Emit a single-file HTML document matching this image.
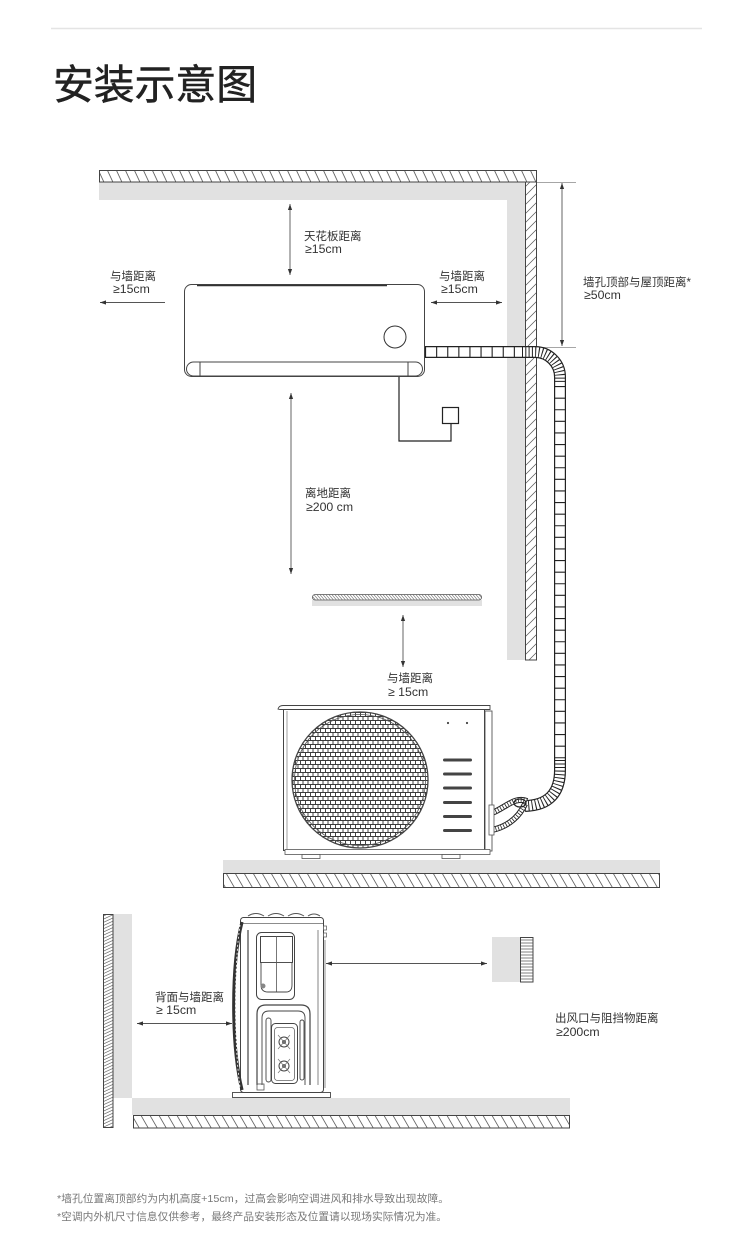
<!DOCTYPE html>
<html><head><meta charset="utf-8">
<style>
html,body{margin:0;padding:0;background:#fff;}
svg{display:block;}
text{font-family:"Liberation Sans","Noto Sans CJK SC",sans-serif;}
.lb{font-size:11.5px;fill:#333;}
.lv{font-size:12.3px;fill:#333;}
.dl{stroke:#555;stroke-width:0.9;fill:none;}
.ol{stroke:#444;stroke-width:1;fill:none;}
</style></head><body>
<svg width="750" height="1245" viewBox="0 0 750 1245" xmlns="http://www.w3.org/2000/svg">
<defs>
  <marker id="ah" viewBox="0 0 10 10" refX="10" refY="5" markerWidth="6" markerHeight="6" orient="auto-start-reverse" markerUnits="userSpaceOnUse">
    <path d="M0,1.5 L10,5 L0,8.5z" fill="#333"/>
  </marker>
  <pattern id="hb" width="9" height="20" patternUnits="userSpaceOnUse" patternTransform="skewX(25)">
    <line x1="1" y1="0" x2="1" y2="20" stroke="#555" stroke-width="0.9"/>
  </pattern>
  <pattern id="hf" width="9" height="20" patternUnits="userSpaceOnUse" patternTransform="skewX(30)">
    <line x1="1" y1="0" x2="1" y2="20" stroke="#555" stroke-width="0.9"/>
  </pattern>
  <pattern id="hw" width="20" height="9" patternUnits="userSpaceOnUse" patternTransform="skewY(-45)">
    <line x1="0" y1="1" x2="20" y2="1" stroke="#555" stroke-width="0.9"/>
  </pattern>
  <pattern id="hs" width="20" height="3.2" patternUnits="userSpaceOnUse" patternTransform="skewY(-25)">
    <line x1="0" y1="1" x2="20" y2="1" stroke="#555" stroke-width="0.7"/>
  </pattern>
  <pattern id="ho" width="20" height="3" patternUnits="userSpaceOnUse">
    <line x1="0" y1="1" x2="20" y2="1" stroke="#555" stroke-width="0.7"/>
  </pattern>
  <pattern id="hsh" width="3" height="10" patternUnits="userSpaceOnUse" patternTransform="skewX(40)">
    <line x1="1" y1="0" x2="1" y2="10" stroke="#555" stroke-width="0.7"/>
  </pattern>
  <pattern id="grl" width="5" height="8" patternUnits="userSpaceOnUse">
    <path d="M0,0.5 H5 M0,4.5 H5 M0.5,0.5 V4.5 M3,4.5 V8.5" stroke="#3a3a3a" stroke-width="0.95" fill="none"/>
  </pattern>
</defs>

<!-- top separator -->
<line x1="51" y1="28.5" x2="702" y2="28.5" stroke="#e4e4e4" stroke-width="1.5"/>
<!-- title -->
<text x="53" y="99" font-size="41" fill="#222" stroke="#222" stroke-width="0.5" textLength="204" lengthAdjust="spacingAndGlyphs">安装示意图</text>

<!-- ceiling & wall -->
<rect x="99" y="182" width="426" height="18" fill="#e1e1e1"/>
<rect x="507" y="182" width="18" height="478" fill="#e1e1e1"/>
<rect x="99.5" y="170.5" width="437" height="11.5" fill="url(#hb)" stroke="#444" stroke-width="1"/>
<rect x="525.5" y="182" width="11" height="478" fill="url(#hw)"/>
<path d="M525.5,182 V660 H536.5 V170.5" class="ol"/>

<!-- right dimension -->
<line x1="537" y1="182.5" x2="576" y2="182.5" stroke="#888" stroke-width="0.8"/>
<line x1="525" y1="347.5" x2="576" y2="347.5" stroke="#888" stroke-width="0.8"/>
<line x1="562" y1="183" x2="562" y2="346" class="dl" marker-start="url(#ah)" marker-end="url(#ah)"/>
<text class="lb" x="583" y="286">墙孔顶部与屋顶距离*</text>
<text class="lv" x="584" y="299">≥50cm</text>

<!-- indoor unit -->
<rect x="184.5" y="284.5" width="240" height="92" rx="7" fill="#fff" stroke="#444" stroke-width="1"/>
<line x1="197" y1="285.5" x2="387" y2="285.5" stroke="#333" stroke-width="1.6"/>
<circle cx="395" cy="337" r="11" fill="#fff" stroke="#333" stroke-width="1"/>
<rect x="186.5" y="362" width="236" height="14" rx="7" fill="#fff" stroke="#444" stroke-width="1"/>
<line x1="200" y1="362" x2="200" y2="376" class="ol"/>
<line x1="408" y1="362" x2="408" y2="376" class="ol"/>

<!-- wire & box -->
<polyline points="399,377 399,441 451,441 451,423" fill="none" stroke="#222" stroke-width="1.2"/>
<rect x="442.5" y="407.5" width="16" height="16" fill="#fff" stroke="#222" stroke-width="1.2"/>

<!-- tube -->
<g fill="none">
  <path d="M425,352 H535 A25,25 0 0 1 560,377 V770 Q560,805 525,806" stroke="#222" stroke-width="12"/>
  <path d="M425,352 H535 A25,25 0 0 1 560,377 V770 Q560,805 525,806" stroke="#fff" stroke-width="9.6"/>
  <path d="M425,352 H522" stroke="#222" stroke-width="10" stroke-dasharray="1.1 10"/>
  <path d="M522,352 H535 A25,25 0 0 1 560,377 V384" stroke="#222" stroke-width="10" stroke-dasharray="1 2.3"/>
  <path d="M560,386 V760" stroke="#222" stroke-width="10" stroke-dasharray="1.1 10.5"/>
  <path d="M560,760 V770 Q560,805 525,806" stroke="#222" stroke-width="10" stroke-dasharray="1 2.5"/>
  <!-- hoses -->
  <path d="M527,801 C515,796 505,808 492,813" stroke="#222" stroke-width="6"/>
  <path d="M527,801 C515,796 505,808 492,813" stroke="#fff" stroke-width="4"/>
  <path d="M527,801 C515,796 505,808 492,813" stroke="#222" stroke-width="4" stroke-dasharray="0.8 2"/>
  <path d="M525,804 C520,815 510,826 492,830" stroke="#222" stroke-width="6"/>
  <path d="M525,804 C520,815 510,826 492,830" stroke="#fff" stroke-width="4"/>
  <path d="M525,804 C520,815 510,826 492,830" stroke="#222" stroke-width="4" stroke-dasharray="0.8 2"/>
  <ellipse cx="520" cy="803" rx="6" ry="4" stroke="#222" stroke-width="1.2"/>
</g>

<!-- dimension arrows top -->
<line x1="290" y1="204" x2="290" y2="275" class="dl" marker-start="url(#ah)" marker-end="url(#ah)"/>
<text class="lb" x="304" y="240">天花板距离</text>
<text class="lv" x="305" y="253">≥15cm</text>

<line x1="165" y1="302.5" x2="100" y2="302.5" class="dl" marker-end="url(#ah)"/>
<text class="lb" x="110" y="280">与墙距离</text>
<text class="lv" x="113" y="293">≥15cm</text>

<line x1="431" y1="302.5" x2="502" y2="302.5" class="dl" marker-start="url(#ah)" marker-end="url(#ah)"/>
<text class="lb" x="439" y="280">与墙距离</text>
<text class="lv" x="441" y="293">≥15cm</text>

<line x1="291" y1="393" x2="291" y2="574" class="dl" marker-start="url(#ah)" marker-end="url(#ah)"/>
<text class="lb" x="305" y="497">离地距离</text>
<text class="lv" x="306" y="511">≥200 cm</text>

<!-- shelf -->
<rect x="312" y="600" width="170" height="6" fill="#e1e1e1"/>
<rect x="312.5" y="594.5" width="169" height="5.5" rx="2.5" fill="url(#hsh)" stroke="#555" stroke-width="0.8"/>

<line x1="403" y1="615" x2="403" y2="667" class="dl" marker-start="url(#ah)" marker-end="url(#ah)"/>
<text class="lb" x="387" y="682">与墙距离</text>
<text class="lv" x="388" y="696">≥ 15cm</text>

<!-- outdoor unit -->
<rect x="485" y="711" width="7" height="140" fill="#fff" stroke="#555" stroke-width="0.9"/>
<rect x="283.5" y="709.5" width="201" height="141" fill="#fff" stroke="#444" stroke-width="1"/>
<line x1="287" y1="711" x2="287" y2="850" stroke="#777" stroke-width="0.7"/>
<path d="M278,709 Q279,705.5 283,705.5 H490 V709.5 H280 Z" fill="#fff" stroke="#444" stroke-width="0.9"/>
<rect x="285" y="849.5" width="205" height="5" fill="#fff" stroke="#555" stroke-width="0.8"/>
<rect x="302" y="854.5" width="18" height="4" fill="#fff" stroke="#555" stroke-width="0.8"/>
<rect x="442" y="854.5" width="18" height="4" fill="#fff" stroke="#555" stroke-width="0.8"/>
<circle cx="360" cy="780" r="68" fill="url(#grl)" stroke="#444" stroke-width="1.3"/>
<circle cx="360" cy="780" r="65.5" fill="none" stroke="#555" stroke-width="0.8"/>
<g fill="#444">
  <rect x="443" y="758.5" width="29" height="3" rx="1.5"/>
  <rect x="443" y="772.5" width="29" height="3" rx="1.5"/>
  <rect x="443" y="786.5" width="29" height="3" rx="1.5"/>
  <rect x="443" y="801" width="29" height="3" rx="1.5"/>
  <rect x="443" y="815" width="29" height="3" rx="1.5"/>
  <rect x="443" y="829" width="29" height="3" rx="1.5"/>
  <circle cx="448" cy="723" r="1.1"/>
  <circle cx="467" cy="723" r="1.1"/>
</g>
<rect x="489" y="805" width="5" height="30" fill="#fff" stroke="#555" stroke-width="0.8"/>

<!-- outdoor floor -->
<rect x="223" y="860" width="437" height="13" fill="#e1e1e1"/>
<rect x="223.5" y="873.5" width="436" height="14" fill="url(#hf)" stroke="#444" stroke-width="1"/>

<!-- side view walls -->
<rect x="113" y="914" width="19" height="184" fill="#e1e1e1"/>
<rect x="132" y="1098" width="438" height="17" fill="#e1e1e1"/>
<rect x="103.5" y="914.5" width="9.5" height="213" fill="url(#hs)" stroke="#444" stroke-width="1"/>
<rect x="133.5" y="1115.5" width="436" height="12.5" fill="url(#hf)" stroke="#444" stroke-width="1"/>

<!-- side unit -->
<rect x="232.5" y="1092.5" width="98" height="5" fill="#fff" stroke="#444" stroke-width="0.9"/>
<rect x="240.5" y="917.5" width="83" height="175" rx="3" fill="#fff" stroke="#444" stroke-width="1"/>
<path d="M248,916 Q256,911 264,916 M268,916 Q276,911 284,916 M288,916 Q296,911 304,916 M308,916 Q314,912 320,916" fill="none" stroke="#555" stroke-width="1"/>
<line x1="241" y1="923.5" x2="323" y2="923.5" stroke="#666" stroke-width="0.7"/>
<path d="M242,922 C231,965 231,1045 242,1090" fill="none" stroke="#333" stroke-width="3.2"/>
<path d="M240,925 C234,965 234,1045 240,1087" fill="none" stroke="#fff" stroke-width="0.8" stroke-dasharray="2 2"/>
<line x1="248" y1="930" x2="248" y2="1085" stroke="#444" stroke-width="1.2"/>
<line x1="318" y1="930" x2="318" y2="1085" stroke="#666" stroke-width="0.8"/>
<rect x="256.5" y="932.5" width="38" height="67" rx="5" fill="#fff" stroke="#444" stroke-width="1"/>
<rect x="260.5" y="936.5" width="32" height="26" fill="#fff" stroke="#444" stroke-width="1"/>
<line x1="276.5" y1="936" x2="276.5" y2="992" stroke="#555" stroke-width="0.8"/>
<line x1="260" y1="962.5" x2="293" y2="962.5" stroke="#555" stroke-width="0.8"/>
<path d="M261,962 V985 Q261,992 268,992 H286 Q292,992 292,985 V962" fill="none" stroke="#444" stroke-width="0.9"/>
<circle cx="263" cy="986" r="2.5" fill="#888"/>
<path d="M257,1085 V1014 Q257,1005 266,1005 H301 Q310,1005 310,1014 V1085" fill="none" stroke="#444" stroke-width="1.2"/>
<path d="M262,1085 V1018 Q262,1011 269,1011 H298 Q305,1011 305,1018 V1085" fill="none" stroke="#444" stroke-width="0.9"/>
<rect x="266" y="1018" width="5" height="64" rx="2.5" fill="none" stroke="#444" stroke-width="0.9"/>
<rect x="300" y="1020" width="4" height="60" rx="2" fill="none" stroke="#444" stroke-width="0.9"/>
<rect x="271.5" y="1023.5" width="26" height="60" rx="4" fill="#fff" stroke="#444" stroke-width="1"/>
<rect x="274.5" y="1027.5" width="20" height="53" rx="3" fill="none" stroke="#666" stroke-width="0.8"/>
<circle cx="284" cy="1042" r="5" fill="none" stroke="#444" stroke-width="1"/>
<circle cx="284" cy="1066" r="5" fill="none" stroke="#444" stroke-width="1"/>
<circle cx="284" cy="1042" r="2" fill="#666"/>
<circle cx="284" cy="1066" r="2" fill="#666"/>
<path d="M278,1035 l12,14 M278,1059 l12,14 M290,1035 l-12,14 M290,1059 l-12,14" stroke="#777" stroke-width="0.7"/>
<rect x="257" y="1084" width="7" height="6" fill="none" stroke="#555" stroke-width="0.8"/>
<rect x="323.5" y="926" width="3" height="4" fill="#fff" stroke="#555" stroke-width="0.7"/>
<rect x="323.5" y="933" width="3" height="4" fill="#fff" stroke="#555" stroke-width="0.7"/>
<line x1="325" y1="940" x2="325" y2="1088" stroke="#777" stroke-width="0.8"/>

<!-- side arrows -->
<line x1="137" y1="1023.5" x2="232" y2="1023.5" class="dl" marker-start="url(#ah)" marker-end="url(#ah)"/>
<text class="lb" x="155" y="1001">背面与墙距离</text>
<text class="lv" x="156" y="1014">≥ 15cm</text>

<line x1="326" y1="963.5" x2="487" y2="963.5" class="dl" marker-start="url(#ah)" marker-end="url(#ah)"/>
<rect x="492" y="937" width="28" height="45" fill="#e1e1e1"/>
<rect x="520.5" y="937.5" width="12.5" height="44.5" fill="url(#ho)" stroke="#444" stroke-width="1"/>
<text class="lb" x="555" y="1022">出风口与阻挡物距离</text>
<text class="lv" x="556" y="1036">≥200cm</text>

<!-- footer notes -->
<text x="57" y="1202" font-size="10.5" fill="#777" textLength="392" lengthAdjust="spacingAndGlyphs">*墙孔位置离顶部约为内机高度+15cm，过高会影响空调进风和排水导致出现故障。</text>
<text x="57" y="1220" font-size="10.5" fill="#777" textLength="390" lengthAdjust="spacingAndGlyphs">*空调内外机尺寸信息仅供参考，最终产品安装形态及位置请以现场实际情况为准。</text>
</svg>
</body></html>
